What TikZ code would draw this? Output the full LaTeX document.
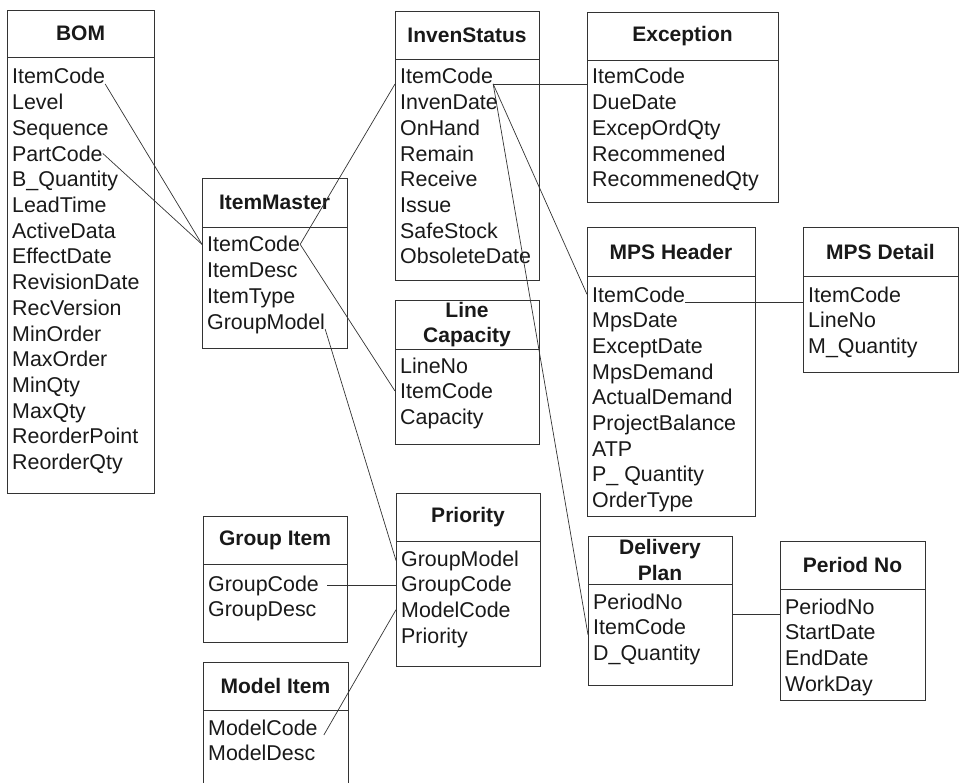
\documentclass[tikz,border=0pt]{standalone}
\usepackage{fontspec}
\setmainfont{Liberation Sans}

% One table of the schema: frame, header rule and title
% #1 name, #2 left, #3 top, #4 right, #5 bottom, #6 header rule, #7 title
\newcommand\erbox[7]{%
  \node[tablebox, minimum width={#4-#2}, minimum height={#5-#3}] (#1) at (#2,#3) {};
  \draw[tablerule] (#2,#6) -- (#4,#6);
  \node[tabletitle] (#1-title) at ({(#2+#4)/2},{(#3+#6)/2}) {#7};
}
% Field list of a table: #1 prefix, #2 x, #3 first baseline, #4 name/text pairs
\newcommand\erfields[4]{%
  \foreach \fldname/\fldtext [count=\fldidx from 0] in {#4} {
    \node[field] (#1-\fldname) at (#2,{#3+\fldidx*25.7}) {\fldtext};
  }
}

\begin{document}
\begin{tikzpicture}[x=1pt,y=-1pt,
  tablebox/.style={draw=black!80, line width=0.9pt, inner sep=0pt, outer sep=0pt, anchor=north west},
  tablerule/.style={draw=black!80, line width=0.9pt},
  tabletitle/.style={font=\bfseries\fontsize{21}{25.5}\selectfont, align=center, inner sep=0pt, text=black!90},
  field/.style={font=\fontsize{21.4}{25}\selectfont, anchor=base west, inner sep=0pt, text=black!90},
  link/.style={draw=black!80, line width=0.7pt}]

\useasboundingbox (0,0) rectangle (960,783);
\clip (0,0) rectangle (960,783);

% ---------- tables ----------
\erbox{bom}{7}{10}{154}{493}{57}{BOM}
\erfields{bom}{12}{84}{itemcode/ItemCode, level/Level, sequence/Sequence, partcode/PartCode,
  bqty/B\_Quantity, leadtime/LeadTime, activedata/ActiveData, effectdate/EffectDate,
  revisiondate/RevisionDate, recversion/RecVersion, minorder/MinOrder, maxorder/MaxOrder,
  minqty/MinQty, maxqty/MaxQty, reorderpoint/ReorderPoint, reorderqty/ReorderQty}

\erbox{im}{202}{178}{347}{348}{227}{ItemMaster}
\erfields{im}{207}{252}{itemcode/ItemCode, itemdesc/ItemDesc, itemtype/ItemType, groupmodel/GroupModel}

\erbox{inv}{395}{11}{539}{280}{59}{InvenStatus}
\erfields{inv}{400}{84}{itemcode/ItemCode, invendate/InvenDate, onhand/OnHand, remain/Remain,
  receive/Receive, issue/Issue, safestock/SafeStock, obsoletedate/ObsoleteDate}

\erbox{exc}{587}{12}{778}{202}{60}{Exception}
\erfields{exc}{592}{84}{itemcode/ItemCode, duedate/DueDate, excepordqty/ExcepOrdQty,
  recommened/Recommened, recommenedqty/RecommenedQty}

\erbox{mh}{587}{227}{755}{516}{276}{MPS Header}
\erfields{mh}{592}{302}{itemcode/ItemCode, mpsdate/MpsDate, exceptdate/ExceptDate,
  mpsdemand/MpsDemand, actualdemand/ActualDemand, projectbalance/ProjectBalance,
  atp/ATP, pqty/P\_ Quantity, ordertype/OrderType}

\erbox{md}{803}{227}{958}{372}{276}{MPS Detail}
\erfields{md}{808}{302}{itemcode/ItemCode, lineno/LineNo, mqty/M\_Quantity}

\erbox{lc}{395}{300}{539}{444}{349}{Line\\Capacity}
\erfields{lc}{400}{373}{lineno/LineNo, itemcode/ItemCode, capacity/Capacity}

\erbox{pri}{396}{493}{540}{666}{541}{Priority}
\erfields{pri}{401}{566}{groupmodel/GroupModel, groupcode/GroupCode, modelcode/ModelCode, priority/Priority}

\erbox{gi}{203}{516}{347}{642}{564}{Group Item}
\erfields{gi}{208}{591}{groupcode/GroupCode, groupdesc/GroupDesc}

\erbox{mi}{203}{662}{348}{800}{710}{Model Item}
\erfields{mi}{208}{735}{modelcode/ModelCode, modeldesc/ModelDesc}

\erbox{dp}{588}{536}{732}{685}{584}{Delivery\\Plan}
\erfields{dp}{593}{609}{periodno/PeriodNo, itemcode/ItemCode, dqty/D\_Quantity}

\erbox{pn}{780}{541}{925}{700}{589}{Period No}
\erfields{pn}{785}{614}{periodno/PeriodNo, startdate/StartDate, enddate/EndDate, workday/WorkDay}

% ---------- relationships ----------
\draw[link] (bom-itemcode.base east) -- (im.west |- im-itemcode);
\draw[link] (bom-partcode.east) -- (im.west |- im-itemcode);
\draw[link] (im-itemcode.east) -- (inv.west |- inv-itemcode.base);
\draw[link] (im-itemcode.east) -- (lc.west |- lc-itemcode);
\draw[link] (im-groupmodel.base east) -- (pri.west |- pri-groupmodel);

\draw[link] (inv-itemcode.base east) -- (exc.west |- inv-itemcode.base);
\draw[link] (inv-itemcode.base east) -- (mh.west |- mh-itemcode);
\draw[link] (inv-itemcode.base east) -- (dp.west |- dp-itemcode.base);

\draw[link] (mh-itemcode.base east) -- (md.west |- mh-itemcode.base);

\draw[link] ([xshift=8pt]gi-groupcode.east) -- (pri.west |- gi-groupcode);
\draw[link] ([xshift=6pt]mi-modelcode.base east) -- (pri.west |- pri-modelcode);
\draw[link] (dp.east |- pn-periodno.base) -- (pn.west |- pn-periodno.base);

\end{tikzpicture}
\end{document}
